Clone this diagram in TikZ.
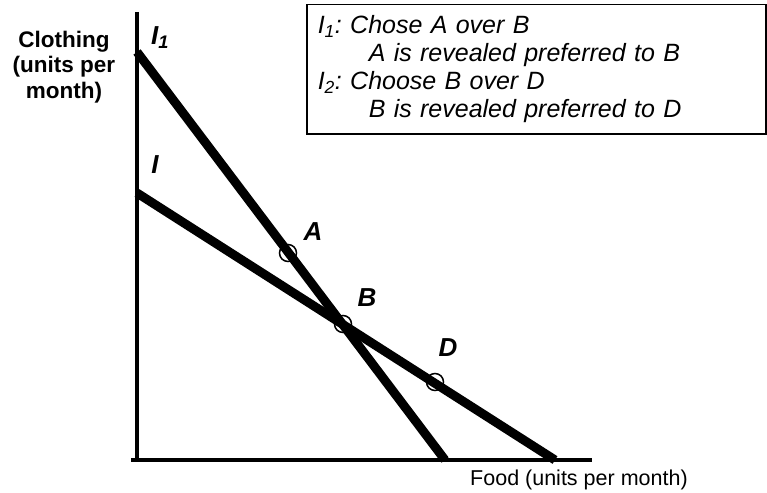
\documentclass[tikz,border=0pt]{standalone}
\usepackage{fontspec}
\setmainfont{Liberation Sans}
\usepackage{tikz}
\usetikzlibrary{positioning,calc}
\frenchspacing

\begin{document}
\begin{tikzpicture}[x=1pt, y=-1pt,
  axis/.style={line width=4pt},
  budget/.style={line width=9pt},
  pt/.style={circle, draw, line width=1.5pt, inner sep=0pt, minimum size=17pt},
  lbl/.style={font=\fontsize{26}{28}\selectfont\bfseries\itshape, inner sep=0pt},
  note/.style={draw, line width=1.5pt, align=left, inner xsep=11pt, inner ysep=11pt,
               font=\fontsize{25}{28}\selectfont\itshape}]
\useasboundingbox (0,0) rectangle (767,492);
% axes
\coordinate (origin) at (137,460);
\coordinate (ytop) at (137,12);
\coordinate (xstart) at (131,460);
\coordinate (xend) at (592,460);
\draw[axis] (ytop) -- (origin);
\draw[axis] (xstart) -- (xend);
\node[font=\fontsize{22.5}{25.5}\selectfont\bfseries, align=center, inner sep=0pt]
  (ylab) at (64,67) {Clothing\\(units per\\month)};
\node[font=\fontsize{21.5}{24}\selectfont, anchor=base west, inner sep=0pt]
  (xlab) at (470,485) {Food (units per month)};
% budget lines
\coordinate (i1top) at (137,52);
\coordinate (i1bot) at (445,460);
\coordinate (itop) at (137,193);
\coordinate (ibot) at (555,460);
\draw[budget] (i1top) -- (i1bot);
\draw[budget] (itop) -- (ibot);
\node[lbl] (li1) at (160,38) {I\textsubscript{1}};
\node[lbl] (li) at (155,165) {I};
% bundles
\node[pt] (A) at (288,253) {};
\node[pt] (B) at (343,324) {};
\node[pt] (D) at (435,382) {};
\node[lbl, xshift=25pt, yshift=21pt] (la) at (A) {A};
\node[lbl, xshift=24pt, yshift=26pt] (lb) at (B) {B};
\node[lbl, xshift=13pt, yshift=34pt] (ld) at (D) {D};
% legend
\node[note, anchor=north west, text width=437pt] (legend) at (306,4)
  {I\textsubscript{1}: Chose A over B\\
   \hspace*{51pt}A is revealed preferred to B\\
   I\textsubscript{2}: Choose B over D\\
   \hspace*{51pt}B is revealed preferred to D};
\end{tikzpicture}
\end{document}
